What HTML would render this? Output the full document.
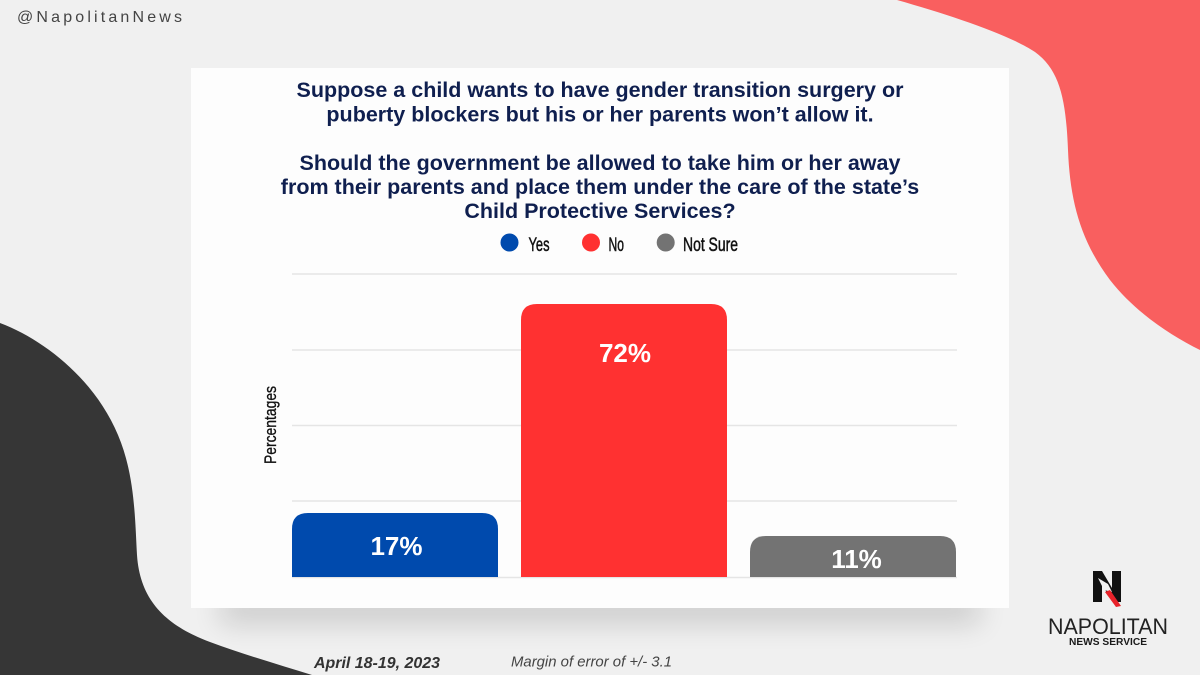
<!DOCTYPE html>
<html>
<head>
<meta charset="utf-8">
<style>
html,body{margin:0;padding:0;background:#f0f0f0;}
svg{display:block;}
text{font-family:"Liberation Sans",Arial,sans-serif;}
</style>
</head>
<body>
<svg width="1200" height="675" viewBox="0 0 1200 675" xmlns="http://www.w3.org/2000/svg">
  <defs>
    <filter id="blur" x="-20%" y="-200%" width="140%" height="500%">
      <feGaussianBlur stdDeviation="14"/>
    </filter>
  </defs>
  <rect x="0" y="0" width="1200" height="675" fill="#f0f0f0"/>

  <!-- red blob top-right -->
  <path d="M897,0 C950,15 1010,35 1035,52 C1060,70 1066,100 1068,150 C1070,200 1080,240 1110,280 C1135,312 1170,335 1200,350 L1200,0 Z" fill="#f95f5f"/>

  <!-- dark blob bottom-left -->
  <path d="M0,323 C45,340 95,380 118,435 C135,475 135,520 137,555 C140,600 165,625 210,642 C245,655 280,665 312,675 L0,675 Z" fill="#363636"/>

  <!-- card shadow -->
  <rect x="220" y="594" width="760" height="30" fill="#000" opacity="0.15" filter="url(#blur)"/>

  <!-- card -->
  <rect x="191" y="68" width="818" height="540" fill="#fdfdfd"/>

  <!-- handle -->
  <text x="17" y="22" font-size="16" fill="#444" textLength="165" lengthAdjust="spacing">@NapolitanNews</text>

  <!-- title -->
  <g font-size="21.5" font-weight="bold" fill="#0f1f4f" text-anchor="middle">
    <text x="600" y="97">Suppose a child wants to have gender transition surgery or</text>
    <text x="600" y="121.5">puberty blockers but his or her parents won’t allow it.</text>
    <text x="600" y="170">Should the government be allowed to take him or her away</text>
    <text x="600" y="194">from their parents and place them under the care of the state’s</text>
    <text x="600" y="218">Child Protective Services?</text>
  </g>

  <!-- legend -->
  <g font-size="19.5" fill="#111" stroke="#111" stroke-width="0.5">
    <circle cx="509.5" cy="242.5" r="9" fill="#004aad" stroke="none"/>
    <text x="528.5" y="251" textLength="21" lengthAdjust="spacingAndGlyphs">Yes</text>
    <circle cx="591" cy="242.5" r="9" fill="#ff3131" stroke="none"/>
    <text x="608.5" y="251" textLength="15.5" lengthAdjust="spacingAndGlyphs">No</text>
    <circle cx="665.7" cy="242.5" r="9" fill="#737373" stroke="none"/>
    <text x="683" y="251" textLength="55" lengthAdjust="spacingAndGlyphs">Not Sure</text>
  </g>

  <!-- gridlines -->
  <g stroke="#e5e5e5" stroke-width="1.5">
    <line x1="292" y1="274" x2="957" y2="274"/>
    <line x1="292" y1="350" x2="957" y2="350"/>
    <line x1="292" y1="425.5" x2="957" y2="425.5"/>
    <line x1="292" y1="501" x2="957" y2="501"/>
    <line x1="292" y1="577.5" x2="957" y2="577.5"/>
  </g>

  <!-- y axis label -->
  <text transform="translate(276,425) rotate(-90)" text-anchor="middle" font-size="16.5" fill="#111" stroke="#111" stroke-width="0.35" textLength="78" lengthAdjust="spacingAndGlyphs">Percentages</text>

  <!-- bars -->
  <path d="M292,577 L292,529 Q292,513 308,513 L482,513 Q498,513 498,529 L498,577 Z" fill="#004aad"/>
  <path d="M521,577 L521,320 Q521,304 537,304 L711,304 Q727,304 727,320 L727,577 Z" fill="#ff3131"/>
  <path d="M750,577 L750,552 Q750,536 766,536 L940,536 Q956,536 956,552 L956,577 Z" fill="#737373"/>

  <g font-size="26" font-weight="bold" fill="#ffffff" text-anchor="middle">
    <text x="396.5" y="555">17%</text>
    <text x="625" y="362">72%</text>
    <text x="856.5" y="568">11%</text>
  </g>

  <!-- footer -->
  <text x="314" y="668" font-size="16" font-weight="bold" font-style="italic" fill="#333" textLength="126" lengthAdjust="spacingAndGlyphs">April 18-19, 2023</text>
  <text x="511" y="666.5" font-size="15" font-style="italic" fill="#444" textLength="161" lengthAdjust="spacingAndGlyphs">Margin of error of +/- 3.1</text>

  <!-- logo -->
  <polygon points="1093,571 1102,571 1112,588 1112,571 1121,571 1121,602 1113,602 1102,585 1102,602 1093,602" fill="#111"/>
  <polygon points="1098,578 1108,584 1112,592 1104,590" fill="#f0f0f0"/>
  <polygon points="1105,592 1110,590 1121,606 1116,607" fill="#e8232a"/>
  <text x="1048" y="634" font-size="22" fill="#222" textLength="120" lengthAdjust="spacingAndGlyphs">NAPOLITAN</text>
  <text x="1069" y="645" font-size="10" font-weight="bold" fill="#1a1a1a" textLength="78" lengthAdjust="spacingAndGlyphs">NEWS SERVICE</text>
</svg>
</body>
</html>
